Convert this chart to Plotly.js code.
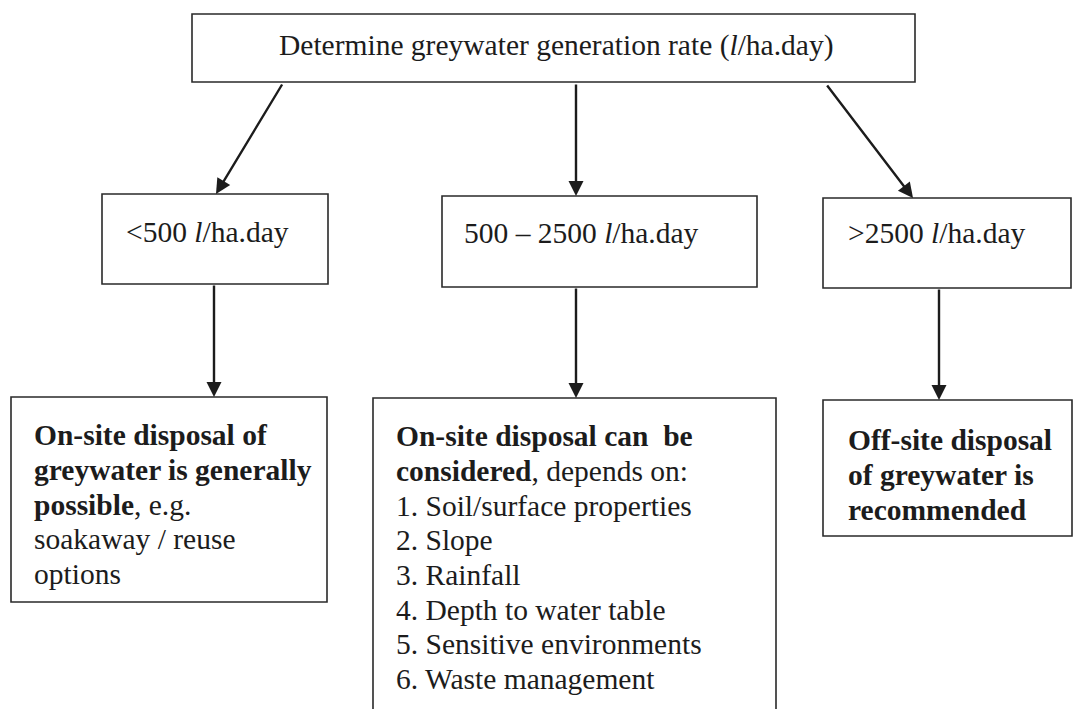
<!DOCTYPE html>
<html>
<head>
<meta charset="utf-8">
<script src="https://cdn.plot.ly/plotly-3.0.1.min.js"></script>
<style>html,body{margin:0;padding:0;background:#fff;}#chart{width:1078px;height:709px;}</style>
</head>
<body>
<div id="chart"></div>
<script>
// ---- content (text) ----
const titleLabel = "Determine greywater generation rate (<i>l</i>/ha.day)";
const rangeLabels = [
  "&lt;500 <i>l</i>/ha.day",
  "500 \u2013 2500 <i>l</i>/ha.day",
  "&gt;2500 <i>l</i>/ha.day"
];
const outcomeLeft = [
  "<b>On-site disposal of</b>",
  "<b>greywater is generally</b>",
  "<b>possible</b>, e.g.",
  "soakaway / reuse",
  "options"
];
const outcomeMiddle = [
  "<b>On-site disposal can\u00a0 be</b>",
  "<b>considered</b>, depends on:",
  "1. Soil/surface properties",
  "2. Slope",
  "3. Rainfall",
  "4. Depth to water table",
  "5. Sensitive environments",
  "6. Waste management"
];
const outcomeRight = [
  "<b>Off-site disposal</b>",
  "<b>of greywater is</b>",
  "<b>recommended</b>"
];

// ---- geometry (page coordinates) ----
const boxes = {
  top:  [192, 915, 14, 82],
  r2L:  [102, 328, 194, 284],
  r2M:  [442, 757, 196, 287],
  r2R:  [823, 1071, 198, 288],
  r3L:  [11, 327, 397, 602],
  r3M:  [373, 776, 398, 720],
  r3R:  [823, 1072, 400, 536]
};
// [tailX, tailY, headX, headY]
const arrows = [
  [283, 83, 216, 194],
  [576, 83, 576, 196],
  [826, 84, 913, 198],
  [214, 284, 214, 397],
  [576, 287, 576, 398],
  [939, 288, 939, 400]
];

const FS = 29.5;
const FONT = "Liberation Serif, Times New Roman, serif";
const INK = "#1c1c1c";

const shapes = Object.values(boxes).map(b => ({
  type: "rect", xref: "x", yref: "y",
  x0: b[0], x1: b[1], y0: b[2], y1: b[3],
  line: {color: "#2a2a2a", width: 1.6}, fillcolor: "rgba(0,0,0,0)"
}));

const annotations = [];
function textLine(txt, x, baseline, anchor) {
  annotations.push({
    text: txt, x: x, y: baseline - FS * 0.33, xref: "x", yref: "y",
    xanchor: anchor || "left", yanchor: "middle", showarrow: false,
    font: {family: FONT, size: FS, color: INK}, borderpad: 0
  });
}
textLine(titleLabel, 556, 55, "center");
textLine(rangeLabels[0], 125, 242);
textLine(rangeLabels[1], 463, 243);
textLine(rangeLabels[2], 847, 243);

const LS = 34.7;
outcomeLeft.forEach((t, i) => textLine(t, 33, 445 + i * LS));
outcomeMiddle.forEach((t, i) => textLine(t, 395, 446 + i * LS));
outcomeRight.forEach((t, i) => textLine(t, 847, 450 + i * LS));

arrows.forEach(a => annotations.push({
  x: a[2], y: a[3], ax: a[0], ay: a[1],
  xref: "x", yref: "y", axref: "x", ayref: "y",
  text: "", showarrow: true, arrowhead: 2, arrowsize: 1.25,
  arrowwidth: 2.4, arrowcolor: "#1c1c1c", standoff: 0
}));

const layout = {
  width: 1078, height: 709,
  margin: {l: 0, r: 0, t: 0, b: 0},
  paper_bgcolor: "#ffffff", plot_bgcolor: "#ffffff",
  xaxis: {range: [0, 1078], visible: false, fixedrange: true},
  yaxis: {range: [709, 0], visible: false, fixedrange: true},
  showlegend: false,
  shapes: shapes,
  annotations: annotations
};

Plotly.newPlot("chart", [{x: [], y: [], type: "scatter", mode: "markers", hoverinfo: "skip"}], layout, {staticPlot: true, displayModeBar: false});
</script>
</body>
</html>
